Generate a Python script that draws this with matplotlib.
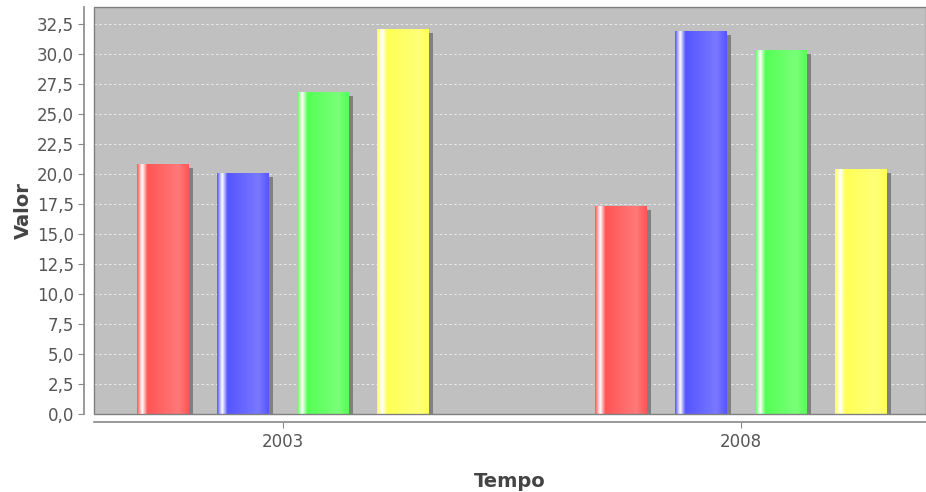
import numpy as np
import matplotlib
matplotlib.use("Agg")
import matplotlib.pyplot as plt
from matplotlib.colors import to_rgb
from matplotlib.patches import Rectangle

## Data
categorias = ["2003", "2008"]
serie_vermelha = [20.8, 17.3]
serie_azul = [20.1, 31.9]
serie_verde = [26.8, 30.3]
serie_amarela = [32.1, 20.4]
series = [serie_vermelha, serie_azul, serie_verde, serie_amarela]
cores = ["#ff5555", "#5555ff", "#55ff55", "#ffff55"]
yticks = np.arange(0, 33, 2.5)

## Layout (pixel scale: 458 px per category, 12 px per unit)
W, H = 926, 492
px_x = 1 / 458.0
px_y = 1 / 12.0
bar_w = 52 * px_x
passo = 80 * px_x

fig = plt.figure(figsize=(W / 100, H / 100), dpi=100)
ax = fig.add_axes([94 / W, (H - 414) / H, (926 - 94) / W, (414 - 7) / H])
ax.set_facecolor("#c0c0c0")


def gradiente(c, n=200):
    # JFreeChart style gradient: c0->white->c0->c1->c0
    c0 = np.array(to_rgb(c))
    c1 = np.clip(c0 + 0.14, 0, 1)
    w = np.ones(3)
    t = np.linspace(0, 1, n)
    out = np.zeros((n, 3))
    for i, x in enumerate(t):
        if x < 0.10:
            f = x / 0.10
            out[i] = c0 + (w - c0) * f
        elif x < 0.20:
            f = (x - 0.10) / 0.10
            out[i] = w + (c0 - w) * f
        elif x < 0.80:
            f = (x - 0.20) / 0.60
            out[i] = c0 + (c1 - c0) * f
        else:
            f = (x - 0.80) / 0.20
            out[i] = c1 + (c0 - c1) * f
    return out[np.newaxis, :, :]


x = np.arange(len(categorias))
for k, (vals, cor) in enumerate(zip(series, cores)):
    xs = x + (k - 1.5) * passo
    # shadow
    ax.bar(xs + 4 * px_x, np.array(vals) - 4 * px_y, bar_w, color="#808080",
           zorder=2, linewidth=0)
    bars = ax.bar(xs, vals, bar_w, color=cor, zorder=3, linewidth=0)
    for b in bars:
        im = ax.imshow(gradiente(cor), extent=[b.get_x(), b.get_x() + b.get_width(), 0, b.get_height()],
                       aspect="auto", zorder=4, interpolation="bilinear")
        im.set_clip_path(b)

ax.set_xlim(-(282.5 - 94) * px_x, 1 + (926 - 740.5) * px_x)
ax.set_ylim(0, (414 - 7) * px_y)

ax.set_yticks(yticks)
ax.set_yticklabels([f"{v:.1f}".replace(".", ",") for v in yticks])
ax.set_xticks(x)
ax.set_xticklabels(categorias)

ax.yaxis.grid(True, color="#ebebeb", linestyle=(0, (2.5, 2.5)), linewidth=0.7)
ax.set_axisbelow(True)

for s in ["top", "right"]:
    ax.spines[s].set_visible(False)
ax.spines["left"].set_position(("outward", 7))
ax.spines["bottom"].set_position(("outward", 6))
ax.spines["left"].set_color("#888888")
ax.spines["bottom"].set_color("#888888")
ax.spines["left"].set_linewidth(1.2)
ax.spines["bottom"].set_linewidth(1.2)
ax.add_patch(Rectangle((0, 0), 1, 1, transform=ax.transAxes, fill=False,
                       edgecolor="#808080", linewidth=1, zorder=5, clip_on=False))

ax.tick_params(axis="both", colors="#888888", labelcolor="#555555", labelsize=12, length=4)
ax.tick_params(axis="x", pad=4)

ax.set_ylabel("Valor", fontsize=14, fontweight="bold", color="#444444", labelpad=3)
ax.set_xlabel("Tempo", fontsize=14, fontweight="bold", color="#444444", labelpad=15)

fig.savefig("out.png", dpi=100)
